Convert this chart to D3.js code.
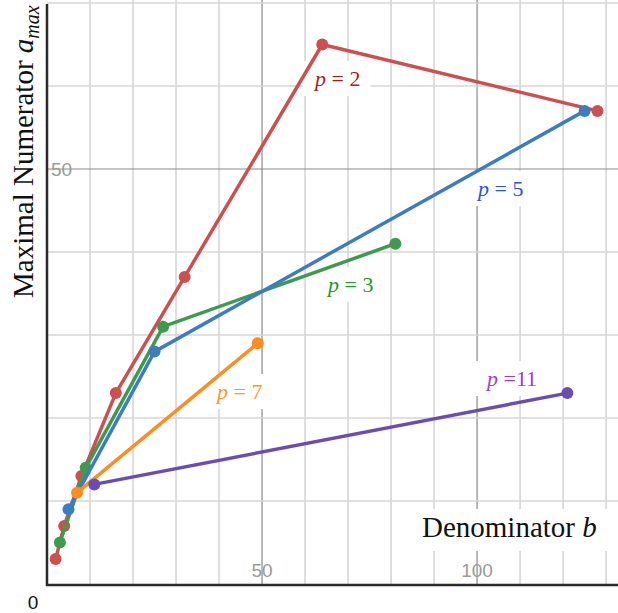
<!DOCTYPE html>
<html><head><meta charset="utf-8">
<script src="https://cdn.jsdelivr.net/npm/d3@7/dist/d3.min.js"></script>
<style>body{margin:0;background:#fff}svg{display:block}</style>
</head><body>
<script>
// Data: (denominator b, maximal numerator a) for each prime p
const p2b = [2, 4, 8, 16, 32, 64, 128];
const p2a = [3, 7, 13, 23, 37, 65, 57];
const p3b = [3, 9, 27, 81];
const p3a = [5, 14, 31, 41];
const p5b = [5, 25, 125];
const p5a = [9, 28, 57];
const p7b = [7, 49];
const p7a = [11, 29];
const p11b = [11, 121];
const p11a = [12, 23];
const xTicksMajor = [50, 100];
const yTicksMajor = [50];
const seriesNames = ["p = 2", "p = 3", "p = 5", "p = 7", "p =11"];

const W = 618, H = 613;
const svg = d3.select("body").append("svg").attr("width", W).attr("height", H);
const x = d3.scaleLinear().domain([0, 133]).range([47, 619]);
const y = d3.scaleLinear().domain([0, 70]).range([584, 3]);

// grid
const g = svg.append("g");
d3.range(10, 140, 10).forEach(v => {
  const major = xTicksMajor.includes(v);
  g.append("line").attr("x1", x(v)).attr("x2", x(v)).attr("y1", 0).attr("y2", 585)
    .attr("stroke", major ? "#8a8a8a" : "#d6d6d6").attr("stroke-width", major ? 1.2 : 1.6);
});
d3.range(10, 71, 10).forEach(v => {
  const major = yTicksMajor.includes(v);
  g.append("line").attr("x1", 47).attr("x2", W).attr("y1", y(v)).attr("y2", y(v))
    .attr("stroke", major ? "#8a8a8a" : "#d6d6d6").attr("stroke-width", major ? 1.2 : 1.6);
});

const bgLayer = svg.append("g");
const seriesLayer = svg.append("g");
const textLayer = svg.append("g");

// axes
svg.append("line").attr("x1", x(0)).attr("x2", x(0)).attr("y1", 4).attr("y2", 586)
  .attr("stroke", "#2a2a2a").attr("stroke-width", 2.5);
svg.append("line").attr("x1", 46).attr("x2", W).attr("y1", 585).attr("y2", 585)
  .attr("stroke", "#2a2a2a").attr("stroke-width", 2.5);

// tick labels
const tl = svg.append("g").attr("font-family", "Liberation Sans, Arial, sans-serif").attr("font-size", 19);
xTicksMajor.forEach(v => tl.append("text").attr("x", x(v)).attr("y", 577).attr("text-anchor", "middle")
  .attr("fill", "#9a9a9a").text(v));
yTicksMajor.forEach(v => tl.append("text").attr("x", 51).attr("y", y(v) + 7).attr("text-anchor", "start")
  .attr("fill", "#9a9a9a").text(v));
tl.append("text").attr("x", 33).attr("y", 609).attr("text-anchor", "middle").attr("fill", "#111").text("0");

const serif = "Liberation Serif, Times New Roman, serif";
function labelWithBg(tx, ty, build, e) {
  const t = textLayer.append("text").attr("x", tx).attr("y", ty);
  build(t);
  const bb = t.node().getBBox();
  bgLayer.append("rect").attr("fill", "#fff")
    .attr("x", bb.x - e.l).attr("y", bb.y - e.t).attr("width", bb.width + e.l + e.r).attr("height", bb.height + e.t + e.b);
}
// axis titles
labelWithBg(422, 537, t => {
  t.attr("font-family", serif).attr("font-size", 29).attr("fill", "#111");
  t.append("tspan").text("Denominator ");
  t.append("tspan").attr("font-style", "italic").text("b");
}, {l: 12, r: 30, t: 2, b: 8});

const yt = svg.append("text").attr("transform", "translate(33,298) rotate(-90)")
  .attr("font-family", serif).attr("font-size", 29).attr("fill", "#111");
yt.append("tspan").text("Maximal Numerator ");
yt.append("tspan").attr("font-style", "italic").text("a");
yt.append("tspan").attr("font-style", "italic").attr("font-size", 20).attr("dy", 6).text("max");

// series
const series = [
  {b: p2b, a: p2a, color: "#cc5050", text: "#a31d1d", lx: 315, ly: 86},
  {b: p3b, a: p3a, color: "#3f9a50", text: "#1f9a1f", lx: 328, ly: 292},
  {b: p5b, a: p5a, color: "#3d7dbf", text: "#2950e6", lx: 478, ly: 196},
  {b: p7b, a: p7a, color: "#fd8c22", text: "#ff9626", lx: 217, ly: 399},
  {b: p11b, a: p11a, color: "#6a4db0", text: "#9a3de0", lx: 487, ly: 386}
];
const line = d3.line().x(d => x(d[0])).y(d => y(d[1]));
series.forEach((s, i) => {
  const pts = s.b.map((b, j) => [b, s.a[j]]);
  seriesLayer.append("path").attr("d", line(pts)).attr("fill", "none").attr("stroke", s.color)
    .attr("stroke-width", 3.5).attr("stroke-linejoin", "round");
  seriesLayer.selectAll(null).data(pts).enter().append("circle")
    .attr("cx", d => x(d[0])).attr("cy", d => y(d[1])).attr("r", 6).attr("fill", s.color);
});
// series labels
series.forEach((s, i) => {
  const parts = seriesNames[i].split(" ");
  labelWithBg(s.lx, s.ly, t => {
    t.attr("font-family", serif).attr("font-size", 22).attr("fill", s.text);
    t.append("tspan").attr("font-style", "italic").text("p");
    t.append("tspan").attr("xml:space", "preserve").text(" " + parts.slice(1).join(" "));
  }, {l: 10, r: 10, t: 5, b: 5});
});
</script>
</body></html>
